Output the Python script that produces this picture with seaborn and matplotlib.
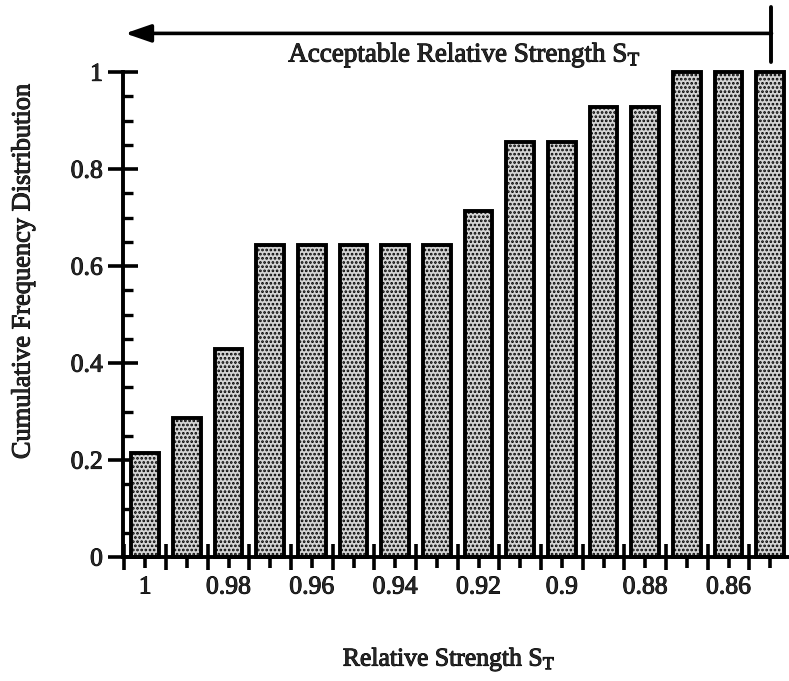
import matplotlib
matplotlib.use("Agg")
import matplotlib.pyplot as plt
import matplotlib.patheffects as pe
import matplotlib.text as mtext
import seaborn as sns
import pandas as pd
import numpy as np

# Relative strength classes (descending) and cumulative frequency of each
strength = [1.00, 0.99, 0.98, 0.97, 0.96, 0.95, 0.94, 0.93,
            0.92, 0.91, 0.90, 0.89, 0.88, 0.87, 0.86, 0.85]
cum_freq = [0.214, 0.286, 0.429, 0.643, 0.643, 0.643, 0.643, 0.643,
            0.714, 0.857, 0.857, 0.929, 0.929, 1.0, 1.0, 1.0]
x_tick_labels = ["1", "0.98", "0.96", "0.94", "0.92", "0.9", "0.88", "0.86"]
y_tick_labels = ["0", "0.2", "0.4", "0.6", "0.8", "1"]

sns.set_theme(style="ticks")
plt.rcParams["font.family"] = ["Liberation Serif", "DejaVu Serif"]
plt.rcParams["mathtext.fontset"] = "custom"
plt.rcParams["mathtext.rm"] = "Liberation Serif"
plt.rcParams["mathtext.it"] = "Liberation Serif"
plt.rcParams["hatch.linewidth"] = 1.3
plt.rcParams["hatch.color"] = "#3a3a3a"

df = pd.DataFrame({"strength": [f"{s:.2f}" for s in strength], "cum": cum_freq})
order = list(df["strength"])

fig = plt.figure(figsize=(7.89, 6.81), dpi=100)
ax = fig.add_axes([0.156, 0.182, 0.844, 0.712])

sns.barplot(data=df, x="strength", y="cum", order=order, ax=ax,
            width=0.66, color="#d4d4d4", saturation=1,
            edgecolor="black", linewidth=2.8)
for p in ax.patches:
    p.set_hatch("....")
    p.set_clip_on(False)

n = len(strength)
ax.set_xlim(-0.53, 15.45)
ax.set_ylim(0, 1)

# x axis: long ticks between classes, short ticks at class centres
ax.set_xticks(np.arange(-0.5, n - 0.5, 1.0))
ax.set_xticklabels([])
ax.set_xticks(np.arange(0, n, 1), minor=True)
ax.set_xticklabels([x_tick_labels[i // 2] if i % 2 == 0 else "" for i in range(n)],
                   minor=True)
ax.tick_params(axis="x", which="major", direction="inout", length=19, width=2.6,
               color="black")
ax.tick_params(axis="x", which="minor", direction="out", length=8, width=2.6,
               pad=6, labelsize=18.5, color="black")

# y axis: major ticks crossing, minor ticks inside
ax.set_yticks(np.arange(0, 1.01, 0.2))
ax.set_yticklabels(y_tick_labels)
ax.set_yticks(np.arange(0, 1.001, 0.05), minor=True)
ax.tick_params(axis="y", which="major", direction="inout", length=21, width=2.6,
               pad=4, labelsize=18.5, color="black")
ax.tick_params(axis="y", which="minor", direction="in", length=7, width=2.4,
               color="black")

for side in ["top", "right"]:
    ax.spines[side].set_visible(False)
for side in ["left", "bottom"]:
    ax.spines[side].set_linewidth(2.8)
    ax.spines[side].set_color("black")

ax.set_xlabel("Relative Strength S$_\\mathrm{T}$", fontsize=18.5)
ax.xaxis.set_label_coords(0.49, -0.185)
ax.set_ylabel("Cumulative Frequency Distribution", fontsize=19)
ax.yaxis.set_label_coords(-0.133, 0.59)

# Acceptable range arrow above the bars
ax.annotate("", xy=(-0.48, 1.08), xytext=(15.03, 1.08), xycoords="data",
            annotation_clip=False,
            arrowprops=dict(arrowstyle="-|>,head_length=1.3,head_width=0.45",
                            lw=2.6, color="black", shrinkA=0, shrinkB=0))
ax.plot([15.03, 15.03], [1.02, 1.135], color="black", lw=2.8, clip_on=False)
ax.text(7.67, 1.035, "Acceptable Relative Strength S$_\\mathrm{T}$", ha="center",
        va="center", fontsize=19.5)

# heavier text strokes
for t in fig.findobj(mtext.Text):
    t.set_path_effects([pe.withStroke(linewidth=0.7, foreground="black")])

fig.savefig("out.png", dpi=100, facecolor="white")
